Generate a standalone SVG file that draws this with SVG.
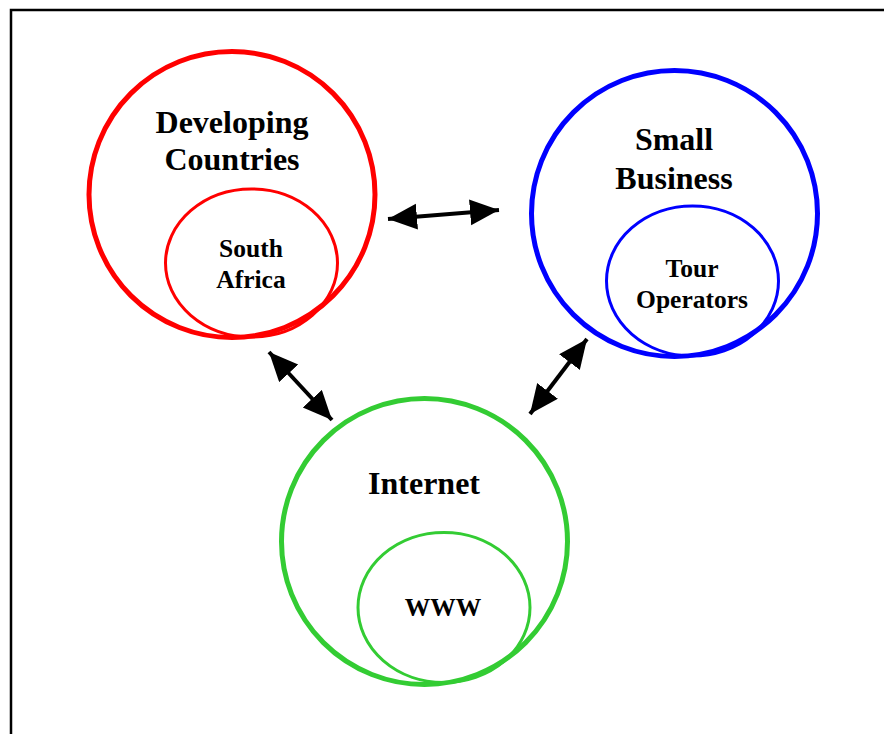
<svg xmlns="http://www.w3.org/2000/svg" width="884" height="734" viewBox="0 0 884 734">
<style>
.t{font-family:"Liberation Serif","Times New Roman",serif;font-weight:bold;text-anchor:middle;fill:#000}
.big{font-size:32px}
.sm{font-size:25.5px}
.c{fill:none}
.conn{stroke:#000;stroke-width:4;fill:none}
</style>
<defs>
<marker id="ah" markerUnits="userSpaceOnUse" markerWidth="32" markerHeight="28" refX="29" refY="13" orient="auto-start-reverse">
<path d="M0,0 L29,13 L0,26 Z" fill="#000"/>
</marker>
</defs>
<rect x="11" y="10" width="890" height="740" fill="none" stroke="#000" stroke-width="2.5"/>
<g id="developing">
<circle class="c" cx="232" cy="194.5" r="143" stroke="#ff0000" stroke-width="5"/>
<ellipse class="c" cx="251.5" cy="263" rx="86" ry="74" stroke="#ff0000" stroke-width="3"/>
<text class="t big" x="232" y="133">Developing</text>
<text class="t big" x="232" y="170">Countries</text>
<text class="t sm" x="251" y="257">South</text>
<text class="t sm" x="251" y="288">Africa</text>
</g>
<g id="small-business">
<circle class="c" cx="674.5" cy="213.5" r="143" stroke="#0000ff" stroke-width="5"/>
<ellipse class="c" cx="692.5" cy="281" rx="86" ry="75" stroke="#0000ff" stroke-width="3"/>
<text class="t big" x="674" y="150">Small</text>
<text class="t big" x="674" y="189">Business</text>
<text class="t sm" x="692" y="277">Tour</text>
<text class="t sm" x="692" y="308">Operators</text>
</g>
<g id="internet">
<circle class="c" cx="424.5" cy="541.5" r="143" stroke="#33cc33" stroke-width="5"/>
<ellipse class="c" cx="444" cy="607.5" rx="86" ry="75" stroke="#33cc33" stroke-width="3"/>
<text class="t big" x="424" y="494">Internet</text>
<text class="t sm" x="443" y="616">WWW</text>
</g>
<g id="connectors">
<line class="conn" x1="388" y1="219" x2="499" y2="210" marker-start="url(#ah)" marker-end="url(#ah)"/>
<line class="conn" x1="269" y1="352" x2="332" y2="420" marker-start="url(#ah)" marker-end="url(#ah)"/>
<line class="conn" x1="587" y1="339" x2="530" y2="414" marker-start="url(#ah)" marker-end="url(#ah)"/>
</g>
</svg>
